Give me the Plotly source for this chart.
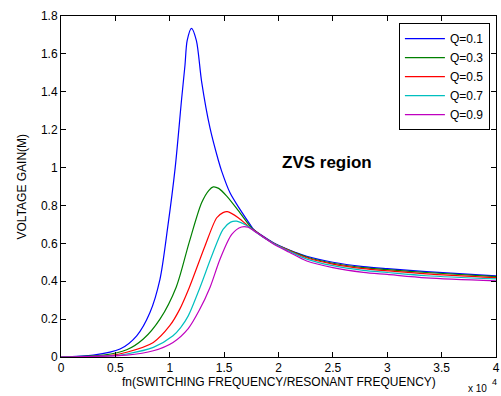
import plotly.graph_objects as go

# fn in units of 1e4
q01_x = [0, 0.297, 0.543, 0.696, 0.818, 0.91, 0.98, 1.05, 1.11, 1.14, 1.16, 1.2, 1.245, 1.293, 1.37, 1.446, 1.478, 1.554, 1.646, 1.738, 1.77, 1.95, 2.1, 2.26, 2.5, 2.78, 3.0, 3.36, 4.0]
q01_y = [0, 0.01, 0.042, 0.112, 0.235, 0.41, 0.68, 1.0, 1.367, 1.54, 1.67, 1.735, 1.67, 1.454, 1.209, 1.04, 0.98, 0.867, 0.779, 0.70, 0.675, 0.604, 0.565, 0.532, 0.50, 0.477, 0.466, 0.451, 0.428]

q03_x = [0, 0.39, 0.604, 0.757, 0.91, 1.06, 1.178, 1.293, 1.36, 1.4, 1.45, 1.524, 1.646, 1.738, 1.77, 1.95, 2.1, 2.26, 2.5, 2.78, 3.0, 3.36, 4.0]
q03_y = [0, 0.01, 0.038, 0.095, 0.2, 0.37, 0.604, 0.814, 0.88, 0.898, 0.89, 0.849, 0.761, 0.691, 0.672, 0.602, 0.563, 0.528, 0.495, 0.472, 0.461, 0.446, 0.424]

q05_x = [0, 0.45, 0.604, 0.849, 1.0, 1.09, 1.18, 1.324, 1.432, 1.49, 1.53, 1.63, 1.738, 1.77, 1.95, 2.1, 2.26, 2.5, 2.78, 3.0, 3.36, 4.0]
q05_y = [0, 0.008, 0.025, 0.077, 0.165, 0.25, 0.367, 0.586, 0.735, 0.762, 0.767, 0.735, 0.683, 0.67, 0.601, 0.561, 0.524, 0.49, 0.466, 0.455, 0.439, 0.419]

q07_x = [0, 0.5, 0.604, 0.849, 1.03, 1.10, 1.17, 1.278, 1.386, 1.49, 1.56, 1.615, 1.738, 1.77, 1.95, 2.1, 2.26, 2.5, 2.78, 3.0, 3.36, 4.0]
q07_y = [0, 0.008, 0.016, 0.051, 0.112, 0.155, 0.217, 0.367, 0.533, 0.674, 0.712, 0.717, 0.683, 0.668, 0.60, 0.558, 0.517, 0.482, 0.457, 0.446, 0.429, 0.412]

q09_x = [0, 0.604, 0.849, 1.03, 1.17, 1.27, 1.37, 1.462, 1.57, 1.66, 1.72, 1.77, 1.95, 2.1, 2.26, 2.5, 2.78, 3.0, 3.36, 4.0]
q09_y = [0, 0.01, 0.033, 0.077, 0.15, 0.245, 0.367, 0.516, 0.647, 0.686, 0.685, 0.668, 0.598, 0.553, 0.507, 0.472, 0.447, 0.436, 0.418, 0.402]

series_names = ["Q=0.1", "Q=0.3", "Q=0.5", "Q=0.7", "Q=0.9"]
series_x = [q01_x, q03_x, q05_x, q07_x, q09_x]
series_y = [q01_y, q03_y, q05_y, q07_y, q09_y]
colors = ["#0000ff", "#008000", "#ff0000", "#00bfbf", "#bf00bf"]

x_ticks = [0, 0.5, 1, 1.5, 2, 2.5, 3, 3.5, 4]
x_ticktext = ["0", "0.5", "1", "1.5", "2", "2.5", "3", "3.5", "4"]
y_ticks = [0, 0.2, 0.4, 0.6, 0.8, 1, 1.2, 1.4, 1.6, 1.8]
y_ticktext = ["0", "0.2", "0.4", "0.6", "0.8", "1", "1.2", "1.4", "1.6", "1.8"]

fig = go.Figure()
for name, xs, ys, c in zip(series_names, series_x, series_y, colors):
    fig.add_trace(go.Scatter(x=xs, y=ys, mode="lines", name=name,
                             line=dict(color=c, width=1.2, shape="spline", smoothing=0.8)))

font_family = "Liberation Sans, Arial, sans-serif"
axis_common = dict(showline=True, linecolor="black", linewidth=1, mirror="ticks",
                   ticks="inside", ticklen=5, tickcolor="black", showgrid=False,
                   zeroline=False, automargin=False, ticklabeloverflow="allow",
                   tickfont=dict(family=font_family, size=12, color="black"))

fig.update_xaxes(range=[0, 4], tickvals=x_ticks, ticktext=x_ticktext, **axis_common)
fig.update_yaxes(range=[0, 1.8], tickvals=y_ticks, ticktext=y_ticktext, **axis_common)

txt_font = dict(family=font_family, size=12, color="black")
fig.add_annotation(x=0.5, y=-0.0733, xref="paper", yref="paper",
                   text="fn(SWITCHING FREQUENCY/RESONANT FREQUENCY)",
                   showarrow=False, xanchor="center", yanchor="middle", font=txt_font)
fig.add_annotation(x=-0.0897, y=0.5, xref="paper", yref="paper", text="VOLTAGE GAIN(M)",
                   textangle=-90, showarrow=False, xanchor="center", yanchor="middle", font=txt_font)
fig.add_annotation(x=2.443, y=1.025, xref="x", yref="y", text="<b>ZVS region</b>",
                   showarrow=False, font=dict(family=font_family, size=17, color="black"))
fig.add_annotation(x=0.9839, y=-0.1144, xref="paper", yref="paper", text="x 10",
                   showarrow=False, xanchor="right", yanchor="bottom",
                   font=dict(family=font_family, size=10, color="black"))
fig.add_annotation(x=0.986, y=-0.0938, xref="paper", yref="paper", text="4",
                   showarrow=False, xanchor="left", yanchor="bottom",
                   font=dict(family=font_family, size=9, color="black"))

fig.update_layout(
    width=501, height=396,
    margin=dict(l=61, r=5, t=16, b=39),
    paper_bgcolor="white", plot_bgcolor="white",
    showlegend=True,
    legend=dict(x=0.986, y=0.979, xanchor="right", yanchor="top",
                bgcolor="white", bordercolor="black", borderwidth=1,
                font=dict(family=font_family, size=12, color="black"),
                itemwidth=40, tracegroupgap=0),
)

fig.write_html("out.html", config={"displayModeBar": False},
               post_script="document.body.style.margin='0px';document.body.style.overflow='hidden';")
